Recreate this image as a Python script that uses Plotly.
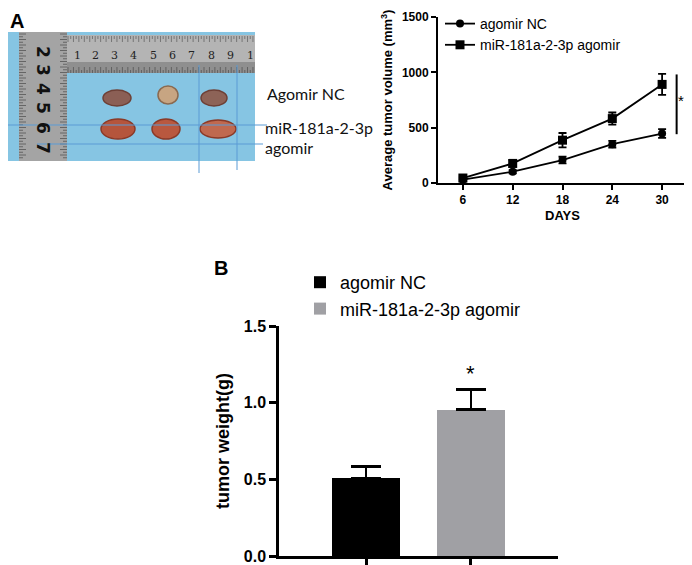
import plotly.graph_objects as go

# The page body adds an 8px margin, so the figure is drawn smaller and positions are shifted.
OFF = 8
W, H = 692 - OFF, 565 - OFF

# ---------------- data ----------------
days = [6, 12, 18, 24, 30]
nc_volume = [30, 102, 207, 351, 447]
nc_volume_err = [15, 15, 30, 30, 40]
mir_volume = [45, 177, 387, 582, 891]
mir_volume_err = [15, 30, 65, 55, 95]
series_names = ["agomir NC", "miR-181a-2-3p agomir"]

groups = ["agomir NC", "miR-181a-2-3p agomir"]
weights = [0.51, 0.954]
weights_err = [0.073, 0.131]
bar_colors = ["#000000", "#a0a0a4"]

ruler_v_labels = ["2", "3", "4", "5", "6", "7"]
ruler_h_labels = ["1", "2", "3", "4", "5", "6", "7", "8", "9", "1"]


def px(x):
    return (x - OFF) / W


def py(y):
    return 1 - (y - OFF) / H


fig = go.Figure()

# ---------------- panel A line chart ----------------
fig.add_trace(go.Scatter(
    x=days, y=nc_volume, name=series_names[0], mode="lines+markers",
    line=dict(color="black", width=1.8),
    marker=dict(symbol="circle", size=8, color="black"),
    error_y=dict(type="data", array=nc_volume_err, color="black", thickness=1.8, width=4),
    xaxis="x", yaxis="y", legend="legend",
))
fig.add_trace(go.Scatter(
    x=days, y=mir_volume, name=series_names[1], mode="lines+markers",
    line=dict(color="black", width=1.8),
    marker=dict(symbol="square", size=9, color="black"),
    error_y=dict(type="data", array=mir_volume_err, color="black", thickness=1.8, width=4),
    xaxis="x", yaxis="y", legend="legend",
))

# ---------------- panel B bar chart ----------------
for i, g in enumerate(groups):
    fig.add_trace(go.Bar(
        x=[g], y=[weights[i]], name=g, width=0.65,
        marker=dict(color=bar_colors[i], line=dict(width=0)),
        error_y=dict(type="data", symmetric=False, array=[weights_err[i]], arrayminus=[0],
                     color="black", thickness=2.5, width=15),
        xaxis="x2", yaxis="y2", legend="legend2",
    ))

bold12 = dict(family="Liberation Sans", size=12, color="black", weight="bold")
bold16 = dict(family="Liberation Sans", size=16, color="black", weight="bold")

fig.update_layout(
    width=W, height=H,
    margin=dict(l=0, r=0, t=0, b=0, autoexpand=False),
    paper_bgcolor="white", plot_bgcolor="white",
    showlegend=True,
    bargap=0,
    xaxis=dict(domain=[px(438), px(687)], range=[3, 33], tickvals=days, anchor="y",
               automargin=False,
               showline=True, linecolor="black", linewidth=2, ticks="outside",
               ticklen=5, tickwidth=2, tickcolor="black", showgrid=False, zeroline=False,
               tickfont=bold12,
               title=dict(text="DAYS", font=dict(family="Liberation Sans", size=13, color="black", weight="bold"),
                          standoff=4)),
    yaxis=dict(domain=[py(183), py(17)], range=[0, 1500], tickvals=[0, 500, 1000, 1500], anchor="x",
               automargin=False,
               showline=True, linecolor="black", linewidth=2, ticks="outside",
               ticklen=5, tickwidth=2, tickcolor="black", showgrid=False, zeroline=False,
               tickfont=bold12,
               title=dict(text="Average tumor volume (mm<sup>3</sup>)",
                          font=dict(family="Liberation Sans", size=13, color="black", weight="bold"),
                          standoff=6)),
    xaxis2=dict(domain=[px(279), px(558)], range=[-0.83, 1.83], type="category", anchor="y2",
                automargin=False,
                showline=True, linecolor="black", linewidth=2.5, ticks="outside",
                ticklen=7, tickwidth=2.5, tickcolor="black", showticklabels=False,
                showgrid=False, zeroline=False),
    yaxis2=dict(domain=[py(556), py(326)], range=[0, 1.5], tickvals=[0, 0.5, 1.0, 1.5], anchor="x2",
                automargin=False,
                tickformat=".1f",
                showline=True, linecolor="black", linewidth=2.5, ticks="outside",
                ticklen=7, tickwidth=2.5, tickcolor="black", showgrid=False, zeroline=False,
                tickfont=bold16,
                title=dict(text="tumor weight(g)",
                           font=dict(family="Liberation Sans", size=18, color="black", weight="bold"),
                           standoff=10)),
    legend=dict(x=px(440), y=py(8), xanchor="left", yanchor="top",
                font=dict(family="Liberation Sans", size=14, color="black"),
                bgcolor="rgba(0,0,0,0)", tracegroupgap=0, itemwidth=30),
    legend2=dict(x=px(300), y=py(264), xanchor="left", yanchor="top",
                 font=dict(family="Liberation Sans", size=18, color="black"),
                 bgcolor="rgba(0,0,0,0)", tracegroupgap=6),
)

shapes = []
annotations = []

# significance bar panel A
shapes.append(dict(type="line", xref="x", yref="y", x0=31.75, x1=31.75, y0=441, y1=981,
                   line=dict(color="black", width=2)))
annotations.append(dict(xref="x", yref="y", x=31.75, y=747, text="*", showarrow=False,
                        font=dict(family="Liberation Sans", size=15, color="black"),
                        xanchor="left", yanchor="middle", xshift=-1))
# star panel B
annotations.append(dict(xref="x2", yref="y2", x=groups[1], y=weights[1] + weights_err[1], text="*",
                        showarrow=False, yanchor="bottom", yshift=2,
                        font=dict(family="Liberation Sans", size=22, color="black")))

# panel labels
annotations.append(dict(xref="paper", yref="paper", x=px(8), y=py(8), text="<b>A</b>", showarrow=False,
                        xanchor="left", yanchor="top",
                        font=dict(family="Liberation Sans", size=20, color="black")))
annotations.append(dict(xref="paper", yref="paper", x=px(212), y=py(268), text="<b>B</b>", showarrow=False,
                        xanchor="left", yanchor="middle",
                        font=dict(family="Liberation Sans", size=20, color="black")))

# ---------------- photo (drawn schematically) ----------------
def rect(x0, y0, x1, y1, fill, line=None, layer="above"):
    shapes.append(dict(type="rect", xref="paper", yref="paper", x0=px(x0), x1=px(x1),
                       y0=py(y1), y1=py(y0), fillcolor=fill,
                       line=dict(width=0) if line is None else line, layer=layer))


def ell(cx, cy, rx, ry, fill, edge):
    shapes.append(dict(type="circle", xref="paper", yref="paper", x0=px(cx - rx), x1=px(cx + rx),
                       y0=py(cy + ry), y1=py(cy - ry), fillcolor=fill,
                       line=dict(color=edge, width=1.5)))


def hline(x0, x1, y, color="#5b9bd5"):
    shapes.append(dict(type="line", xref="paper", yref="paper", x0=px(x0), x1=px(x1), y0=py(y), y1=py(y),
                       line=dict(color=color, width=1)))


def vline(x, y0, y1, color="#5b9bd5"):
    shapes.append(dict(type="line", xref="paper", yref="paper", x0=px(x), x1=px(x), y0=py(y0), y1=py(y1),
                       line=dict(color=color, width=1)))


rect(8, 32, 255, 161, "#86c5e3")
rect(19, 32, 67, 161, "#a4a4a4")
rect(67, 35, 255, 73, "#b4b4b4")
rect(67, 62, 255, 73, "#8f8f8f")
# ruler tick marks
for k in range(0, 47):
    yy = 34 + k * 2.75
    if yy > 160:
        break
    ln = 7 if k % 2 == 0 else 4
    shapes.append(dict(type="line", xref="paper", yref="paper", x0=px(19), x1=px(19 + ln),
                       y0=py(yy), y1=py(yy), line=dict(color="#555555", width=0.8)))
    shapes.append(dict(type="line", xref="paper", yref="paper", x0=px(67 - ln), x1=px(67),
                       y0=py(yy), y1=py(yy), line=dict(color="#555555", width=0.8)))
for k in range(0, 70):
    xx = 68 + k * 2.72
    if xx > 255:
        break
    ln = 6 if k % 2 == 0 else 3
    shapes.append(dict(type="line", xref="paper", yref="paper", x0=px(xx), x1=px(xx),
                       y0=py(73), y1=py(73 - ln), line=dict(color="#555555", width=0.8)))
    shapes.append(dict(type="line", xref="paper", yref="paper", x0=px(xx), x1=px(xx),
                       y0=py(36), y1=py(36 + ln), line=dict(color="#666666", width=0.8)))

v_pos = [52, 70, 89, 108, 128, 148]
for lab, yy in zip(ruler_v_labels, v_pos):
    annotations.append(dict(xref="paper", yref="paper", x=px(43), y=py(yy), text="<b>" + lab + "</b>",
                            showarrow=False, textangle=90,
                            font=dict(family="DejaVu Sans", size=17, color="#111111"),
                            xanchor="center", yanchor="middle"))
h_pos = [77, 95, 114, 133, 153, 172, 191, 211, 230, 250]
for lab, xx in zip(ruler_h_labels, h_pos):
    annotations.append(dict(xref="paper", yref="paper", x=px(xx), y=py(55), text=lab, showarrow=False,
                            font=dict(family="DejaVu Serif", size=11, color="#222222"),
                            xanchor="center", yanchor="middle"))

# tumours
ell(117, 98, 14, 8, "#8b5f55", "#6e4036")
ell(168, 95, 10, 9, "#c7a582", "#8a6a50")
ell(214, 98, 13, 8, "#8d6357", "#6e4036")
ell(118, 129, 17, 10, "#b5553c", "#8a3a28")
ell(166, 129, 14, 10, "#b9583f", "#8a3a28")
ell(218, 129, 18, 9, "#c0694f", "#8a3a28")

hline(8, 267, 125)
hline(37, 263, 144)
vline(199, 65, 173)
vline(237, 65, 170)

photo_font = dict(family="Lato", size=16, color="#111111")
annotations.append(dict(xref="paper", yref="paper", x=px(265), y=py(93), text="Agomir NC", showarrow=False,
                        xanchor="left", yanchor="middle", font=photo_font))
annotations.append(dict(xref="paper", yref="paper", x=px(263), y=py(127), text="miR-181a-2-3p", showarrow=False,
                        xanchor="left", yanchor="middle", font=photo_font))
annotations.append(dict(xref="paper", yref="paper", x=px(263), y=py(147), text="agomir", showarrow=False,
                        xanchor="left", yanchor="middle", font=photo_font))

fig.update_layout(shapes=shapes, annotations=annotations)

fig.write_html("out.html")
